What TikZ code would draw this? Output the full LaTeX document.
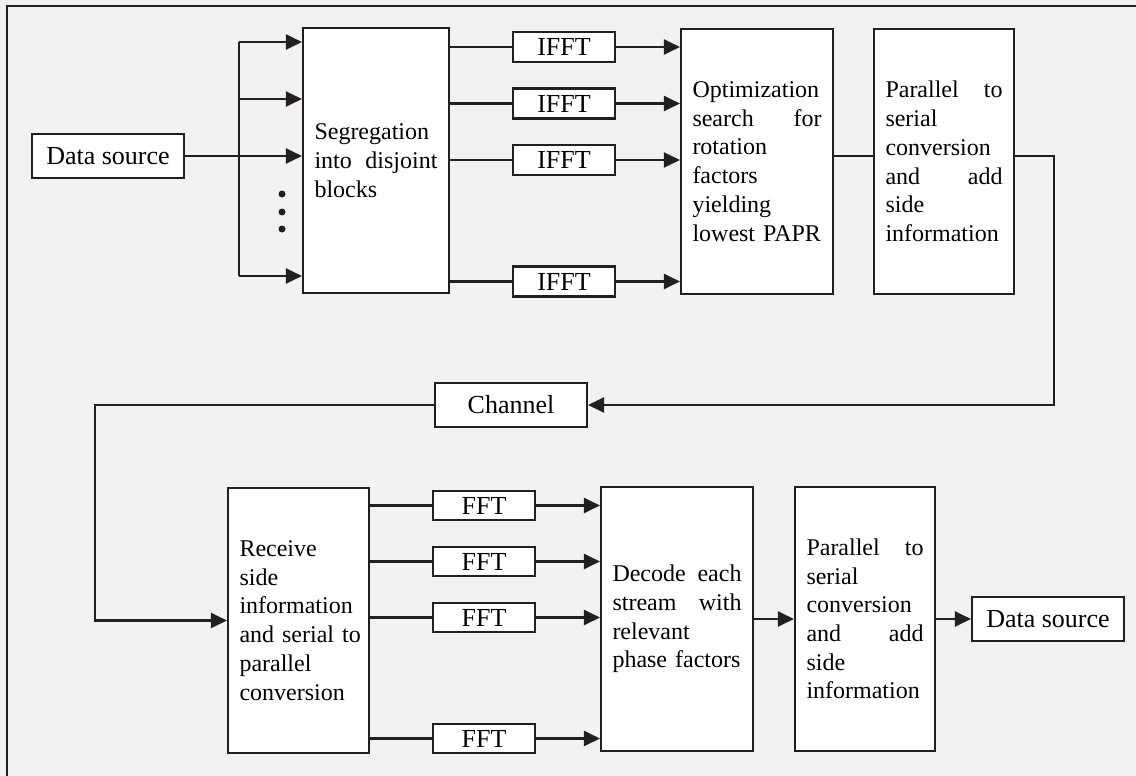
\documentclass[tikz,border=0pt]{standalone}
\usepackage{fontspec}
\setmainfont{Liberation Serif}
\usetikzlibrary{arrows.meta}
\definecolor{bg}{HTML}{F1F2F4}
\definecolor{ink}{HTML}{231F20}
\tikzset{
  line/.style={draw=ink, line width=2.1pt},
  arr/.style={line, -{Triangle[length=16pt,width=15pt]}},
  smallbox/.style={draw=ink, fill=white, line width=2.1pt, inner sep=0pt,
    font=\fontsize{26}{30}\selectfont},
  bigbox/.style={draw=ink, fill=white, line width=2.1pt, inner xsep=11.5pt,
    inner ysep=0pt, align=left, font=\fontsize{24}{28.7}\selectfont},
  dot/.style={circle, fill=ink, inner sep=0pt, minimum size=7pt}
}
\begin{document}
\begin{tikzpicture}[x=1pt,y=-1pt]
\useasboundingbox (0,0) rectangle (1136,776);
\fill[bg] (0,0) rectangle (1136,776);
\draw[line] (7,776) -- (7,6) -- (1136,6);

% top row
\node[smallbox, minimum width=152pt, minimum height=44pt] (ds1) at (108,156) {Data source};
\node[bigbox, text width=123pt, minimum height=265pt] (seg) at (376,160.5)
  {Segregation\\ into\hfill disjoint\\ blocks};
\node[smallbox, minimum width=102pt, minimum height=30pt] (if1) at (564,47) {IFFT};
\node[smallbox, minimum width=102pt, minimum height=30pt] (if2) at (564,103.5) {IFFT};
\node[smallbox, minimum width=102pt, minimum height=30pt] (if3) at (564,160) {IFFT};
\node[smallbox, minimum width=102pt, minimum height=30pt] (if4) at (564,281.5) {IFFT};
\node[bigbox, text width=129pt, minimum height=265pt] (opt) at (757,161.5)
  {Optimization\\ search\hfill for\\ rotation\\ factors\\ yielding\\ lowest PAPR};
\node[bigbox, text width=117pt, minimum height=265pt] (par1) at (944,161.5)
  {Parallel\hfill to\\ serial\\ conversion\\ and\hfill add\\ side\\ information};

% bus
\coordinate (bt) at (239,42);
\coordinate (b2) at (239,99);
\coordinate (bb) at (239,276);
\draw[line] (bt) -- (bb);
\draw[arr] (bt) -- (bt -| seg.west);
\draw[arr] (b2) -- (b2 -| seg.west);
\draw[arr] (bb) -- (bb -| seg.west);
\draw[arr] (ds1.east) -- (ds1.east -| seg.west);
\node[dot] (d1) at (282,194) {};
\node[dot] (d2) at (282,212) {};
\node[dot] (d3) at (282,229) {};

\foreach \n in {if1,if2,if3,if4}{
  \draw[line] (seg.east |- \n) -- (\n.west);
  \draw[arr] (\n.east) -- (\n -| opt.west);
}

% feedback to channel
\coordinate (r1) at (1054,156);
\draw[line] (opt.east |- r1) -- (par1.west |- r1);
\node[smallbox, minimum width=152pt, minimum height=44pt] (ch) at (511,405) {Channel};
\draw[arr] (par1.east |- r1) -- (r1) |- (ch.east);

% bottom row
\node[bigbox, text width=118pt, minimum height=265pt] (rx) at (298.5,620.5)
  {Receive\\ side\\ information\\ \mbox{and serial to}\\ parallel\\ conversion};
\coordinate (l1) at (95,405);
\draw[arr] (ch.west) -- (l1) |- (rx.west);

\node[smallbox, minimum width=102pt, minimum height=29pt] (ff1) at (484,505.5) {FFT};
\node[smallbox, minimum width=102pt, minimum height=29pt] (ff2) at (484,561.5) {FFT};
\node[smallbox, minimum width=102pt, minimum height=29pt] (ff3) at (484,617.5) {FFT};
\node[smallbox, minimum width=102pt, minimum height=29pt] (ff4) at (484,738.5) {FFT};
\node[bigbox, text width=129pt, minimum height=264pt] (dec) at (677,619)
  {Decode\hfill each\\ stream\hfill with\\ relevant\\ phase factors};
\node[bigbox, text width=117pt, minimum height=264pt] (par2) at (865,619)
  {Parallel\hfill to\\ serial\\ conversion\\ and\hfill add\\ side\\ information};
\node[smallbox, minimum width=152pt, minimum height=44pt] (ds2) at (1048,619) {Data source};

\foreach \n in {ff1,ff2,ff3,ff4}{
  \draw[line] (rx.east |- \n) -- (\n.west);
  \draw[arr] (\n.east) -- (\n -| dec.west);
}
\draw[arr] (dec.east) -- (par2.west);
\draw[arr] (par2.east) -- (ds2.west);
\end{tikzpicture}
\end{document}
